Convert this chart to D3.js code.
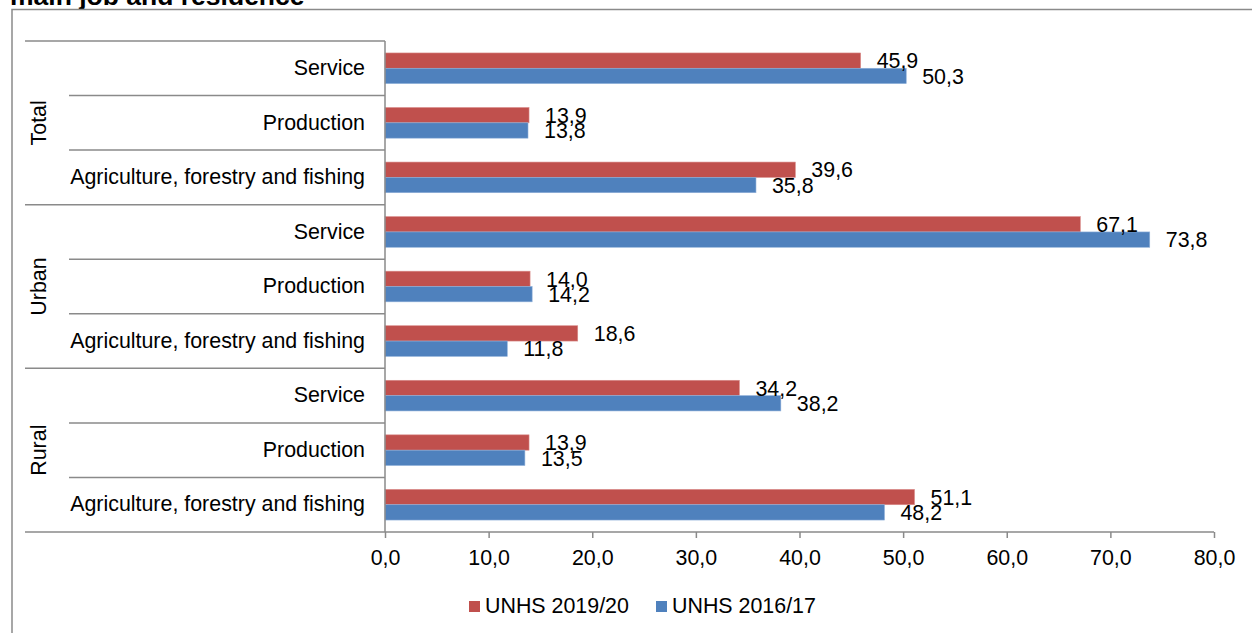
<!DOCTYPE html>
<html>
<head>
<meta charset="utf-8">
<script src="https://cdn.jsdelivr.net/npm/d3@7"></script>
<style>
  html, body { margin: 0; padding: 0; background: #fff; }
  svg { display: block; }
  text { font-family: "Liberation Sans", Arial, sans-serif; fill: #000; }
</style>
</head>
<body>
<svg id="chart" width="1252" height="633"></svg>
<script>
// ---- data ----
const groups = ["Total", "Urban", "Rural"];
const categories = ["Service", "Production", "Agriculture, forestry and fishing"];
const seriesNames = ["UNHS 2019/20", "UNHS 2016/17"];
const values2019 = [45.9, 13.9, 39.6, 67.1, 14.0, 18.6, 34.2, 13.9, 51.1];
const values2016 = [50.3, 13.8, 35.8, 73.8, 14.2, 11.8, 38.2, 13.5, 48.2];
const xTicks = [0, 10, 20, 30, 40, 50, 60, 70, 80];
const titleText = "main job and residence";

// ---- layout ----
const colors = ["#C0504D", "#4F81BD"];
const gridColor = "#8a8a8a";
const fs = "21.4px";
const svg = d3.select("#chart");

const rows = [];
groups.forEach((g, gi) => categories.forEach((c, ci) => {
  const i = gi * categories.length + ci;
  rows.push({ id: g + "|" + c, group: g, cat: c, vals: [values2019[i], values2016[i]] });
}));

const x = d3.scaleLinear().domain([0, 80]).range([385, 1214]);
const y = d3.scaleBand().domain(rows.map(r => r.id)).range([41, 532]).padding(0);
const ys = d3.scaleBand().domain(seriesNames).range([0, y.bandwidth()]).paddingInner(0).paddingOuter(0.78);
const fmt = v => d3.format(".1f")(v).replace(".", ",");

// title (clipped at top)
svg.append("text").attr("x", 10).attr("y", 5)
  .style("font-weight", "bold").style("font-size", "26.5px").text(titleText);

// outer frame
svg.append("rect").attr("x", 12).attr("y", 9.5).attr("width", 1260).attr("height", 660)
  .attr("fill", "none").attr("stroke", gridColor).attr("stroke-width", 1.5);

// bars
const rowG = svg.append("g").selectAll("g").data(rows).join("g")
  .attr("transform", d => `translate(0,${y(d.id)})`);
rowG.selectAll("rect").data(d => d.vals.map((v, k) => ({ v, k }))).join("rect")
  .attr("x", x(0))
  .attr("y", d => ys(seriesNames[d.k]))
  .attr("width", d => x(d.v) - x(0))
  .attr("height", ys.bandwidth())
  .attr("fill", d => colors[d.k])
  .attr("stroke", d => d.k === 0 ? "#d98c8a" : "#8fb0d9")
  .attr("stroke-width", 0.6);
rowG.selectAll("text.lbl").data(d => d.vals.map((v, k) => ({ v, k }))).join("text")
  .attr("class", "lbl")
  .attr("x", d => x(d.v) + 16)
  .attr("y", d => ys(seriesNames[d.k]) + ys.bandwidth() / 2)
  .attr("dy", "0.36em")
  .style("font-size", fs)
  .text(d => fmt(d.v));

// category labels
svg.append("g").selectAll("text").data(rows).join("text")
  .attr("x", 365).attr("y", d => y(d.id) + y.bandwidth() / 2 - 1).attr("dy", "0.36em")
  .attr("text-anchor", "end").style("font-size", fs).text(d => d.cat);

// separators
const sep = svg.append("g").attr("stroke", gridColor).attr("stroke-width", 1.5);
rows.forEach((r, i) => {
  const isGroupEdge = i % categories.length === 0;
  sep.append("line").attr("x1", isGroupEdge ? 25 : 69).attr("x2", x(0))
    .attr("y1", y(r.id)).attr("y2", y(r.id));
});
sep.append("line").attr("x1", 25).attr("x2", x(0)).attr("y1", 532).attr("y2", 532);
// vertical axis line
sep.append("line").attr("x1", x(0)).attr("x2", x(0)).attr("y1", 41).attr("y2", 532);

// group labels
groups.forEach((g, gi) => {
  const y0 = y(rows[gi * categories.length].id);
  const y1 = y(rows[gi * categories.length + categories.length - 1].id) + y.bandwidth();
  svg.append("text")
    .attr("transform", `translate(46,${(y0 + y1) / 2}) rotate(-90)`)
    .attr("text-anchor", "middle").style("font-size", fs).text(g);
});

// x axis
const xAxis = svg.append("g").attr("transform", "translate(0,532)")
  .call(d3.axisBottom(x).tickValues(xTicks).tickSize(6).tickPadding(12).tickFormat(fmt));
xAxis.select(".domain").attr("stroke", gridColor).attr("stroke-width", 1.5)
  .attr("d", `M${x(0)},0H${x(80)}`);
xAxis.selectAll(".tick line").attr("stroke", gridColor).attr("stroke-width", 1.5);
xAxis.selectAll(".tick text").style("font-size", fs)
  .style("font-family", '"Liberation Sans", Arial, sans-serif').attr("fill", "#000");

// legend
const legendX = [469, 656];
const leg = svg.append("g").selectAll("g").data(seriesNames).join("g")
  .attr("transform", (d, i) => `translate(${legendX[i]},601)`);
leg.append("rect").attr("width", 11).attr("height", 11).attr("fill", (d, i) => colors[i]);
leg.append("text").attr("x", 16).attr("y", 12).style("font-size", fs).text(d => d);
</script>
</body>
</html>
